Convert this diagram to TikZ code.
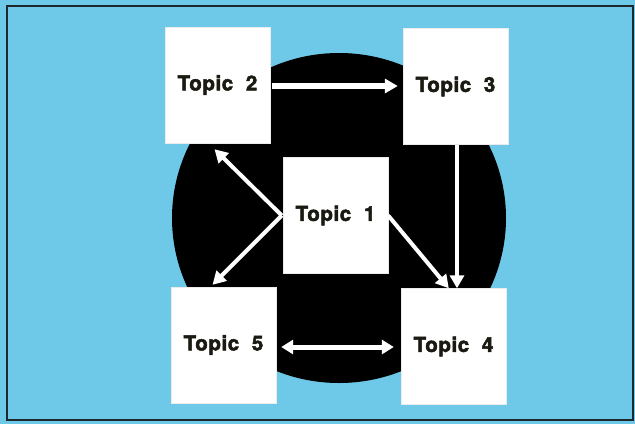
\documentclass[tikz,border=0pt]{standalone}
\usepackage{fontspec}
\newfontfamily\lab[FakeBold=2.5,LetterSpace=3]{TeX Gyre Heros Bold}
\usetikzlibrary{arrows.meta,calc}
\definecolor{skyb}{RGB}{110,201,233}
\definecolor{ink}{RGB}{27,26,18}
\definecolor{frame}{RGB}{30,40,45}
\tikzset{
  topicbox/.style={fill=white, draw=white!92!black, line width=0.4pt, minimum width=105pt, minimum height=116pt, inner sep=0pt,
    font=\lab\fontsize{20.5}{20.5}\selectfont, text=ink},
  flow/.style={draw=white, line width=#1, -{Triangle[length=13pt,width=14pt]}},
  flow/.default=4.5pt,
  biflow/.style={draw=white, line width=5pt, {Triangle[length=12pt,width=14pt]}-{Triangle[length=12pt,width=14pt]}}
}
\begin{document}
\begin{tikzpicture}[x=1pt,y=-1pt]
\useasboundingbox (0,0) rectangle (635,424);
\fill[skyb] (0,0) rectangle (635,424);
\draw[frame, line width=2.5pt] (7,6) rectangle (633,420);
\fill[black] (339,218) ellipse [x radius=167, y radius=165];
\node[topicbox] (t2) at (217.5,85) {Topic\ \ 2};
\node[topicbox] (t3) at (455.5,86.5) {Topic\ \ 3};
\node[topicbox] (t1) at (335.5,215.5) {Topic\ \ 1};
\node[topicbox] (t5) at (223.5,345) {Topic\ \ 5};
\node[topicbox] (t4) at (453.5,346.5) {Topic\ \ 4};
\coordinate (t1l) at ($(t1.west)+(-1,0)$);
\coordinate (a2) at ($(t2.south)+(-3,6)$);
\coordinate (a5) at ($(t5.north)+(-11,-2)$);
\coordinate (a4) at ($(t4.north west)+(48,0)$);
\draw[flow=5.5pt, shorten <=2pt, shorten >=5pt] (t2.east |- 0,86) -- (t3.west |- 0,86);
\draw[flow=3.5pt] ($(t3.south)+(1.5,0)$) -- ($(t4.north)+(3.5,0)$);
\draw[flow=4pt] (t1.east) -- (a4);
\draw[flow=4pt] (t1l) -- (a2);
\draw[flow=4pt] (t1l) -- (a5);
\draw[biflow, shorten <=5pt, shorten >=7pt] (t5.east |- 0,347) -- (t4.west |- 0,347);
\end{tikzpicture}
\end{document}
